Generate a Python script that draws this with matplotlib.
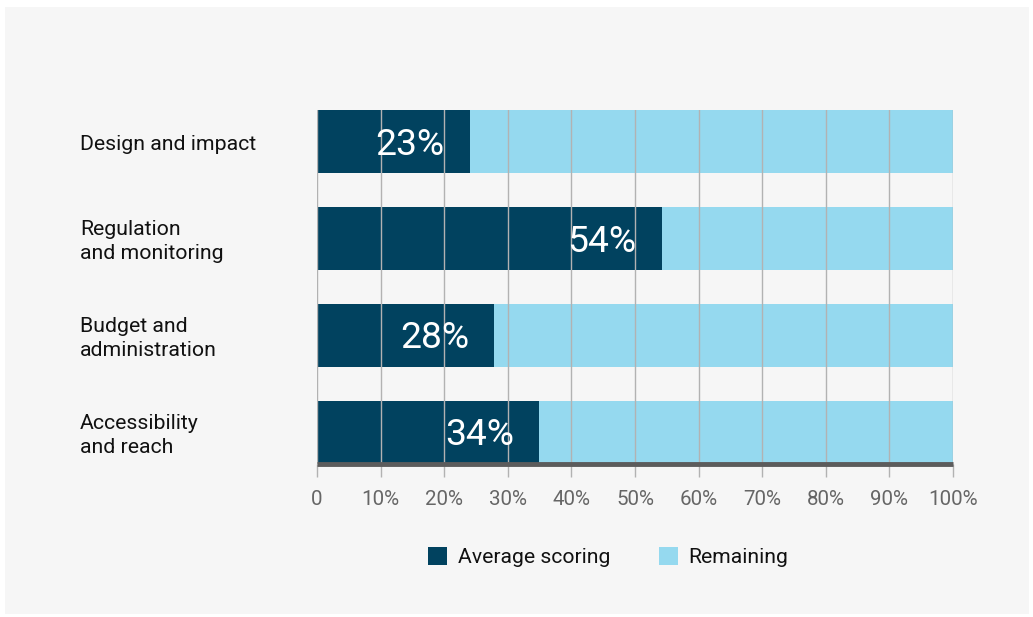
import matplotlib
matplotlib.use("Agg")
import matplotlib.pyplot as plt
from matplotlib.patches import Patch, Rectangle
from matplotlib.transforms import blended_transform_factory, offset_copy

plt.rcParams['font.family'] = ['Roboto', 'DejaVu Sans']

categories = ["Design and impact", "Regulation\nand monitoring",
              "Budget and\nadministration", "Accessibility\nand reach"]
average_scoring = [24.0, 54.2, 27.9, 34.9]
remaining = [76.0, 45.8, 72.1, 65.1]
bar_labels = ["23%", "54%", "28%", "34%"]
x_ticks = [0, 10, 20, 30, 40, 50, 60, 70, 80, 90, 100]
x_tick_labels = ["0", "10%", "20%", "30%", "40%", "50%", "60%", "70%", "80%", "90%", "100%"]
series_names = ["Average scoring", "Remaining"]

dark = "#01425f"
light = "#95d9ef"
panel = "#f6f6f6"

W, H = 1033, 617
fig = plt.figure(figsize=(W / 100, H / 100), dpi=100)
fig.patch.set_facecolor("white")
fig.patches.append(Rectangle((5 / W, 1 - 614 / H), 1024 / W, 607 / H,
                             transform=fig.transFigure, facecolor=panel,
                             edgecolor="none", zorder=-10))

ax = fig.add_axes([317 / W, (H - 464) / H, 636 / W, 354 / H])
ax.set_facecolor("none")
ax.set_zorder(1)

y = list(range(len(categories)))
bh = 0.65
ax.barh(y, average_scoring, height=bh, color=dark, zorder=1)
ax.barh(y, remaining, left=average_scoring, height=bh, color=light, zorder=1)

ax.set_xlim(0, 100)
ax.set_ylim(len(categories) - 1 + bh / 2, -bh / 2)

ax.set_xticks(x_ticks)
ax.set_xticklabels(x_tick_labels)
ax.xaxis.grid(True, color="#b2b2b2", linewidth=1.0, zorder=2)
ax.set_axisbelow(False)
for line in ax.get_xgridlines():
    line.set_zorder(2)
ax.tick_params(axis="x", length=9, width=1, color="#b2b2b2", labelcolor="#666666",
               labelsize=14.8, pad=10)
ax.set_yticks([])
for s in ["left", "right", "top"]:
    ax.spines[s].set_visible(False)
ax.spines["bottom"].set_color("#5c5c5c")
ax.spines["bottom"].set_linewidth(3.5)
ax.spines["bottom"].set_capstyle("butt")
ax.spines["bottom"].set_zorder(3)

trans = offset_copy(blended_transform_factory(fig.transFigure, ax.transData),
                    fig=fig, x=0, y=-3, units="dots")
for yi, cat in zip(y, categories):
    ax.text(80 / W, yi, cat, transform=trans, ha="left", va="center",
            fontsize=15.3, color="#111111", linespacing=1.38)

for yi, v, lab in zip(y, average_scoring, bar_labels):
    t = offset_copy(ax.transData, fig=fig, x=-25, y=-3, units="dots")
    ax.text(v, yi, lab, transform=t, ha="right", va="center",
            fontsize=26.8, color="white", zorder=4)

handles = [Patch(facecolor=dark, edgecolor="none"), Patch(facecolor=light, edgecolor="none")]
fig.legend(handles, series_names, loc="center", bbox_to_anchor=(608 / W, 1 - 557 / H),
           ncol=2, frameon=False, fontsize=15.2, handlelength=0.9, handleheight=0.9,
           handletextpad=0.5, columnspacing=2.3, labelcolor="#111111")

fig.savefig("out.png", dpi=100, facecolor=fig.get_facecolor())
